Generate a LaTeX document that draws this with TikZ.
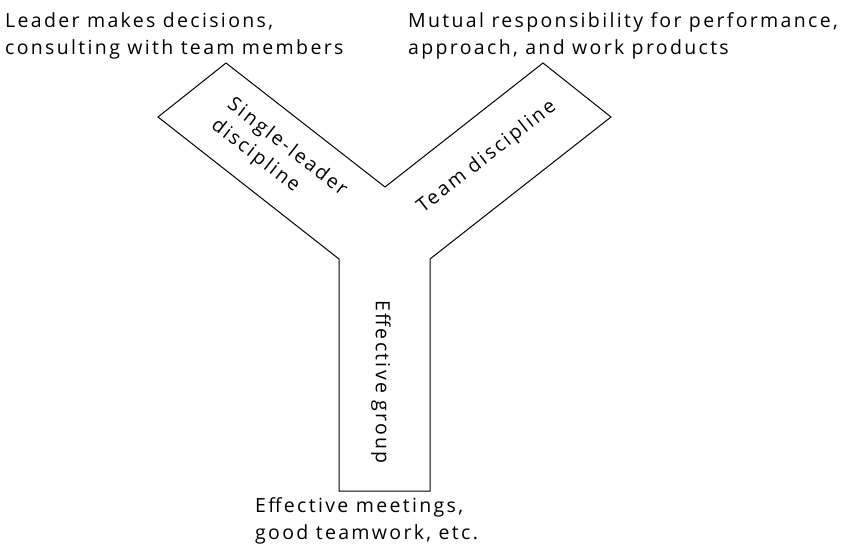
\documentclass[tikz,border=0pt]{standalone}
\usepackage{fontspec}
\setmainfont{Open Sans}[LetterSpace=12]

\begin{document}
\begin{tikzpicture}[x=1pt,y=-1pt,
  note/.style={anchor=north west,inner sep=0pt,align=left,font=\fontsize{19.5}{27.5}\selectfont},
  armlabel/.style={inner sep=0pt,align=left,font=\fontsize{19.5}{26}\selectfont}]
\useasboundingbox (0,0) rectangle (841,548);
% corners of the Y
\coordinate (stem_bl) at (339,491);
\coordinate (stem_tl) at (339,259);
\coordinate (left_bot) at (158,117);
\coordinate (left_top) at (226,63);
\coordinate (fork) at (385,187);
\coordinate (right_top) at (543,63);
\coordinate (right_bot) at (611,117);
\coordinate (stem_tr) at (430,259);
\coordinate (stem_br) at (430,491);
\draw[line width=1pt,line join=miter] (stem_bl) -- (stem_tl) -- (left_bot) -- (left_top) -- (fork)
  -- (right_top) -- (right_bot) -- (stem_tr) -- (stem_br) -- cycle;
% labels in the arms
\node[armlabel,rotate=-38] (single_lbl) at (279,158) {Single-leader\\discipline};
\node[armlabel,rotate=38] (team_lbl) at (487,157) {Team discipline};
\node[armlabel,rotate=-90] (group_lbl) at (381,382) {Effective group};
% notes at the ends
\node[note] (single_note) at (5,12) {Leader makes decisions,\\consulting with team members};
\node[note] (team_note) at (408,12) {Mutual responsibility for performance,\\approach, and work products};
\node[note] (group_note) at (255,497) {Effective meetings,\\good teamwork, etc.};
\end{tikzpicture}
\end{document}
